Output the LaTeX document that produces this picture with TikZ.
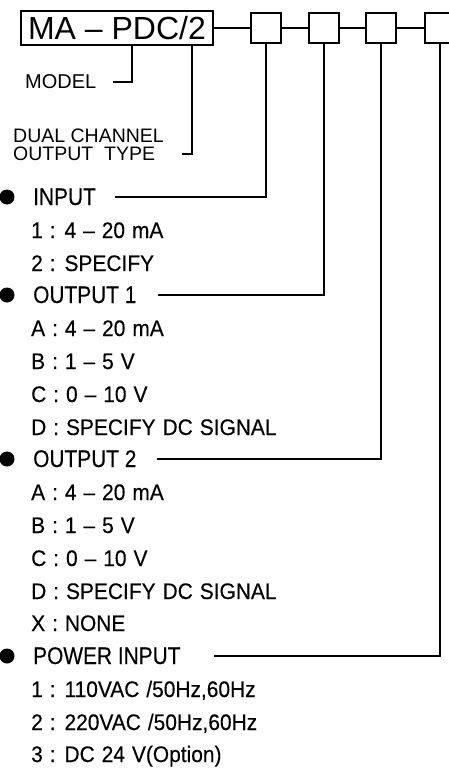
\documentclass[tikz,border=0pt]{standalone}
\usepackage{fontspec}
\setmainfont{Liberation Sans}[FakeStretch=0.93, FakeBold=0.3, WordSpace=1.2]
\newfontfamily\headfont{Liberation Sans}[FakeStretch=0.87, FakeBold=0.3, Ligatures=TeX]
\newfontfamily\plainfont{Liberation Sans}[Ligatures=TeX]

\begin{document}
\begin{tikzpicture}[x=1pt, y=-1pt,
		txt/.style={anchor=base west, inner sep=0pt, font=\fontsize{22.5}{26}\selectfont},
		head/.style={txt, font=\headfont\fontsize{24}{26}\selectfont},
		wire/.style={line width=2pt},
		selbox/.style={draw, line width=2pt, minimum width=30, minimum height=30, inner sep=0pt}]
		%%%%% START %%%%%
		\useasboundingbox (0, 0) rectangle (448, 768);
		
		\node[draw, line width=1.4pt, minimum width=192, minimum height=34, inner sep=0pt, font=\plainfont\fontsize{32}{36}\selectfont] (model) at (117, 28) {MA \textendash{} PDC/2};
		
		\node[selbox] (sel1) at (266, 28) {};
		\node[selbox] (sel2) at (323.5, 28) {};
		\node[selbox] (sel3) at (381, 28) {};
		\node[selbox] (sel4) at (439.5, 28) {};
		\draw[wire] (model) -- (sel1);
		\draw[wire] (sel1) -- (sel2);
		\draw[wire] (sel2) -- (sel3);
		\draw[wire] (sel3) -- (sel4);
		
		\node[txt, font=\plainfont\fontsize{20}{24}\selectfont] (mlabel) at (25, 88.5) {MODEL};
		\coordinate (mtap) at (132, 45);
		\draw[wire] ([xshift=16]mlabel.east) -| (mtap);
		
		\node[txt, font=\plainfont\fontsize{19.5}{24}\selectfont] (tlabel1) at (13, 142) {DUAL CHANNEL};
		\node[txt, font=\plainfont\fontsize{19.5}{24}\selectfont] (tlabel2) at (13, 160.5) {OUTPUT\ \ TYPE};
		\coordinate (ttap) at (192, 45);
		\draw[wire] ([xshift=27]tlabel2.east) -| (ttap);
		
		%%%%% INPUT %%%%%
		\fill (7, 197) circle (7.5);
		\node[head] (hin) at (33, 205) {INPUT};
		\node[txt] (in1) at (31, 238) {1 : 4 \textendash{} 20 mA};
		\node[txt] (in2) at (31, 271) {2 : SPECIFY};
		\draw[wire] ([xshift=19]hin.east) -| (sel1.south);
		
		%%%%% OUTPUT 1 %%%%%
		\fill (7, 295) circle (7.5);
		\node[head] (hout1) at (33, 303) {OUTPUT 1};
		\node[txt] (oa1) at (31, 336) {A : 4 \textendash{} 20 mA};
		\node[txt] (ob1) at (31, 369) {B : 1 \textendash{} 5 V};
		\node[txt] (oc1) at (31, 402) {C : 0 \textendash{} 10 V};
		\node[txt] (od1) at (31, 435) {D : SPECIFY DC SIGNAL};
		\draw[wire] ([xshift=21]hout1.east) -| (sel2.south);
		
		%%%%% OUTPUT 2 %%%%%
		\fill (7, 459) circle (7.5);
		\node[head] (hout2) at (33, 467) {OUTPUT 2};
		\node[txt] (oa2) at (31, 500) {A : 4 \textendash{} 20 mA};
		\node[txt] (ob2) at (31, 533) {B : 1 \textendash{} 5 V};
		\node[txt] (oc2) at (31, 566) {C : 0 \textendash{} 10 V};
		\node[txt] (od2) at (31, 599) {D : SPECIFY DC SIGNAL};
		\node[txt] (ox2) at (31, 631) {X : NONE};
		\draw[wire] ([xshift=20]hout2.east) -| (sel3.south);
		
		%%%%% POWER INPUT %%%%%
		\fill (7, 656) circle (7.5);
		\node[head] (hpow) at (33, 664) {POWER INPUT};
		\node[txt] (pw1) at (31, 697) {1 : 110VAC /50Hz,60Hz};
		\node[txt] (pw2) at (31, 730) {2 : 220VAC /50Hz,60Hz};
		\node[txt] (pw3) at (31, 762) {3 : DC 24 V(Option)};
		\draw[wire] ([xshift=33]hpow.east) -| (sel4.south);
		
		%%%%% END %%%%%
\end{tikzpicture}
\end{document}
